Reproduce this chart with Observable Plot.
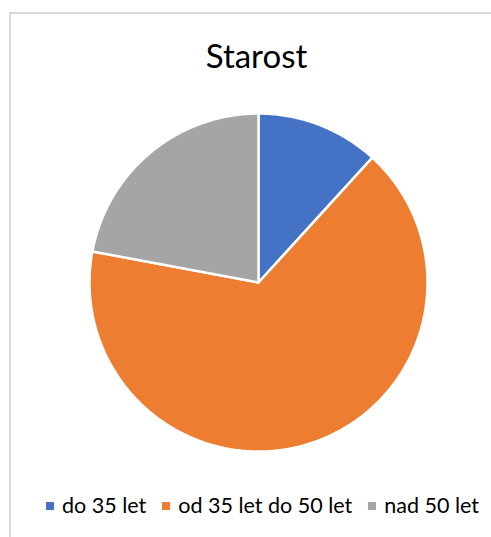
<!DOCTYPE html>
<html>
<head>
<meta charset="utf-8">
<script src="https://cdn.jsdelivr.net/npm/d3@7"></script>
<script src="https://cdn.jsdelivr.net/npm/@observablehq/plot@0.6"></script>
<style>
  html, body { margin: 0; padding: 0; background: #fff; }
  body { width: 491px; height: 537px; position: relative; overflow: hidden; font-family: Lato, "Open Sans", sans-serif; }
  #frame { position: absolute; left: 9px; top: 12px; width: 600px; height: 600px; border: 2px solid #d9d9d9; box-sizing: border-box; }
  #title { position: absolute; left: 0; width: 513px; top: 35px; line-height: 40px; text-align: center; font-size: 33px; color: #000; }
  #chart { position: absolute; left: 0; top: 0; }
  #legend { position: absolute; left: 0; width: 525px; top: 492px; line-height: 26px; display: flex; justify-content: center; font-size: 21.5px; color: #000; }
  .item { display: flex; align-items: center; margin: 0 8px; }
  .sw { width: 8px; height: 8px; margin-right: 8px; margin-top: 2px; }
</style>
</head>
<body>
<div id="frame"></div>
<div id="chart"></div>
<div id="title">Starost</div>
<div id="legend"></div>
<script>
const categories = ["do 35 let", "od 35 let do 50 let", "nad 50 let"];
const values = [8, 45, 15];
const colors = ["#4472C4", "#ED7D31", "#A5A5A5"];
const titleText = "Starost";

document.getElementById("title").textContent = titleText;

// Build slice outlines (unit circle) from the data via d3.pie
const arcs = d3.pie().sort(null).value(d => d.value)(categories.map((c, i) => ({cat: c, value: values[i]})));
const pts = [];
for (const a of arcs) {
  const cat = a.data.cat;
  pts.push({cat, x: 0, y: 0});
  const n = Math.max(2, Math.ceil((a.endAngle - a.startAngle) / 0.01));
  for (let k = 0; k <= n; k++) {
    const t = a.startAngle + (a.endAngle - a.startAngle) * k / n;
    pts.push({cat, x: Math.sin(t), y: Math.cos(t)});
  }
  pts.push({cat, x: 0, y: 0});
}

const cx = 258, cy = 282, r = 169;
const W = 491, H = 537;
const chart = Plot.plot({
  width: W,
  height: H,
  marginLeft: cx - r,
  marginRight: W - (cx + r),
  marginTop: cy - r,
  marginBottom: H - (cy + r),
  x: {domain: [-1, 1], axis: null},
  y: {domain: [-1, 1], axis: null},
  color: {domain: categories, range: colors},
  style: {background: "transparent", overflow: "visible"},
  marks: [
    Plot.line(pts, {x: "x", y: "y", z: "cat", fill: "cat", stroke: "white", strokeWidth: 2.5, strokeLinejoin: "miter", curve: "linear"})
  ]
});
document.getElementById("chart").appendChild(chart);

const legend = document.getElementById("legend");
categories.forEach((c, i) => {
  const it = document.createElement("div");
  it.className = "item";
  const sw = document.createElement("div");
  sw.className = "sw";
  sw.style.background = chart.scale("color").apply(c);
  const tx = document.createElement("span");
  tx.textContent = c;
  it.appendChild(sw); it.appendChild(tx);
  legend.appendChild(it);
});
</script>
</body>
</html>
